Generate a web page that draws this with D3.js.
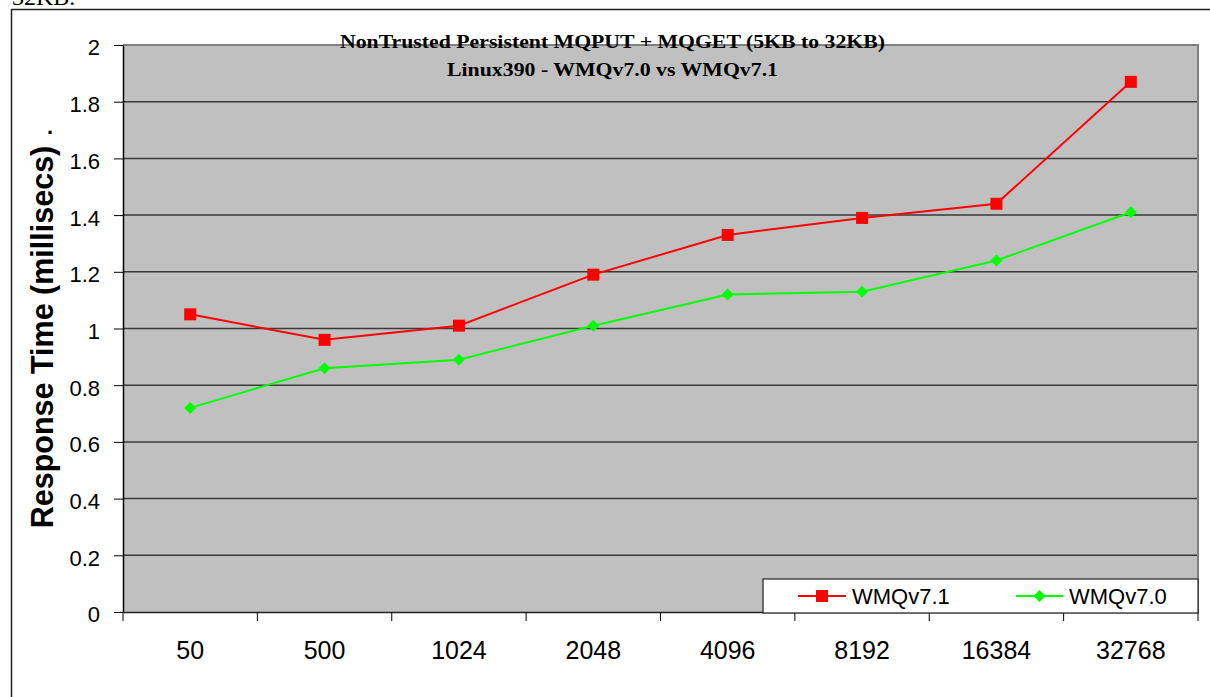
<!DOCTYPE html>
<html>
<head>
<meta charset="utf-8">
<script src="https://cdn.jsdelivr.net/npm/d3@7/dist/d3.min.js"></script>
<style>
  html, body { margin: 0; padding: 0; background: #fff; }
  svg { display: block; }
</style>
</head>
<body>
<svg id="chart" width="1210" height="697"></svg>
<script>
const categories = ["50", "500", "1024", "2048", "4096", "8192", "16384", "32768"];
const wmq71 = [1.05, 0.96, 1.01, 1.19, 1.33, 1.39, 1.44, 1.87];
const wmq70 = [0.72, 0.86, 0.89, 1.01, 1.12, 1.13, 1.24, 1.41];
const yTicks = [0, 0.2, 0.4, 0.6, 0.8, 1, 1.2, 1.4, 1.6, 1.8, 2];
const seriesNames = ["WMQv7.1", "WMQv7.0"];
const titleLines = ["NonTrusted Persistent MQPUT + MQGET (5KB to 32KB)", "Linux390 - WMQv7.0 vs WMQv7.1"];
const yTitle = "Response Time (millisecs)";

const svg = d3.select("#chart");
const SANS = "'Liberation Sans', Arial, sans-serif";
const SERIF = "'Liberation Serif', 'Times New Roman', serif";

const plot = { left: 123, right: 1198, top: 45, bottom: 612 };

// outer frame (cut by the page)
svg.append("path")
  .attr("d", `M11.5,700 L11.5,9.5 L1215,9.5`)
  .attr("fill", "none").attr("stroke", "#222").attr("stroke-width", 1.5);

// text partly cut off above the frame, as in the reference
svg.append("text").attr("x", 12).attr("y", 5)
  .attr("font-family", SERIF).attr("font-size", 24).attr("fill", "#000")
  .text("32KB.");

const x = d3.scaleBand().domain(categories).range([plot.left, plot.right]).padding(0);
const y = d3.scaleLinear().domain([0, 2]).range([plot.bottom, plot.top]);
const cx = c => x(c) + x.bandwidth() / 2;

// plot background
svg.append("rect")
  .attr("x", plot.left).attr("y", plot.top)
  .attr("width", plot.right - plot.left).attr("height", plot.bottom - plot.top)
  .attr("fill", "#c0c0c0");

// gridlines
svg.append("g").selectAll("line")
  .data(yTicks.filter(t => t > 0 && t < 2))
  .join("line")
  .attr("x1", plot.left).attr("x2", plot.right)
  .attr("y1", d => y(d)).attr("y2", d => y(d))
  .attr("stroke", "#3a3a3a").attr("stroke-width", 1.5);

// plot border top & right (gray)
svg.append("path")
  .attr("d", `M${plot.left},${plot.top} L${plot.right},${plot.top} L${plot.right},${plot.bottom}`)
  .attr("fill", "none").attr("stroke", "#808080").attr("stroke-width", 2);

// Y axis
const yAxis = d3.axisLeft(y).tickValues(yTicks).tickSize(9).tickSizeOuter(0)
  .tickFormat(d => d3.format("~g")(d));
const gy = svg.append("g").attr("transform", `translate(${plot.left},0)`).call(yAxis);
gy.select(".domain").attr("stroke", "#000").attr("stroke-width", 1.5);
gy.selectAll(".tick line").attr("stroke", "#000").attr("stroke-width", 1);
gy.selectAll(".tick text")
  .attr("font-family", SANS).attr("font-size", 22).attr("fill", "#000")
  .attr("x", -23).attr("dy", "0.45em");

// X axis: baseline, boundary ticks, labels
const xAxis = d3.axisBottom(x).tickSize(0).tickSizeOuter(0);
const gx = svg.append("g").attr("transform", `translate(0,${plot.bottom})`).call(xAxis);
gx.select(".domain").attr("stroke", "#222").attr("stroke-width", 1.5);
gx.selectAll(".tick text")
  .attr("font-family", SANS).attr("font-size", 25).attr("fill", "#000")
  .attr("y", 47).attr("dy", 0);
const bounds = categories.map(c => x(c)).concat([x(categories[categories.length - 1]) + x.bandwidth()]);
gx.append("g").selectAll("line").data(bounds).join("line")
  .attr("x1", d => d).attr("x2", d => d).attr("y1", 0).attr("y2", 9)
  .attr("stroke", "#000").attr("stroke-width", 1);

// lines
const line = d3.line().x((d, i) => cx(categories[i])).y(d => y(d));
svg.append("path").datum(wmq71).attr("d", line)
  .attr("fill", "none").attr("stroke", "#ff0000").attr("stroke-width", 2);
svg.append("path").datum(wmq70).attr("d", line)
  .attr("fill", "none").attr("stroke", "#00ff00").attr("stroke-width", 2);

// markers
const sq = 12, dm = 6;
svg.append("g").selectAll("rect").data(wmq71).join("rect")
  .attr("x", (d, i) => cx(categories[i]) - sq / 2).attr("y", d => y(d) - sq / 2)
  .attr("width", sq).attr("height", sq).attr("fill", "#ff0000");
const diamond = (px, py) => `M${px},${py - dm} L${px + dm},${py} L${px},${py + dm} L${px - dm},${py} Z`;
svg.append("g").selectAll("path").data(wmq70).join("path")
  .attr("d", (d, i) => diamond(cx(categories[i]), y(d)))
  .attr("fill", "#00ff00");

// title
const tw = [545, 331];
titleLines.forEach((t, i) => {
  svg.append("text")
    .attr("x", 612.5).attr("y", i === 0 ? 48 : 76)
    .attr("text-anchor", "middle")
    .attr("font-family", SERIF).attr("font-weight", "bold").attr("font-size", 19)
    .attr("textLength", tw[i]).attr("lengthAdjust", "spacingAndGlyphs")
    .attr("fill", "#000").text(t);
});

// y title
svg.append("text")
  .attr("transform", `translate(53,337) rotate(-90)`)
  .attr("text-anchor", "middle")
  .attr("font-family", SANS).attr("font-weight", "bold").attr("font-size", 30.5)
  .attr("fill", "#000").text(yTitle);
svg.append("text")
  .attr("x", 50).attr("y", 134).attr("text-anchor", "middle")
  .attr("font-family", SANS).attr("font-weight", "bold").attr("font-size", 22)
  .attr("fill", "#000").text(".");

// legend
const lg = { x: 763, y: 579, w: 435, h: 34 };
svg.append("rect").attr("x", lg.x).attr("y", lg.y).attr("width", lg.w).attr("height", lg.h)
  .attr("fill", "#fff").attr("stroke", "#222").attr("stroke-width", 1.2);
const lcy = lg.y + lg.h / 2;
const legendItems = [
  { name: seriesNames[0], color: "#ff0000", x1: 798, x2: 846, tx: 852, mark: "sq" },
  { name: seriesNames[1], color: "#00ff00", x1: 1016, x2: 1063, tx: 1069, mark: "dm" }
];
legendItems.forEach(it => {
  svg.append("line").attr("x1", it.x1).attr("x2", it.x2).attr("y1", lcy).attr("y2", lcy)
    .attr("stroke", it.color).attr("stroke-width", 2);
  const mx = (it.x1 + it.x2) / 2;
  if (it.mark === "sq") {
    svg.append("rect").attr("x", mx - sq / 2).attr("y", lcy - sq / 2).attr("width", sq).attr("height", sq)
      .attr("fill", it.color);
  } else {
    svg.append("path").attr("d", diamond(mx, lcy)).attr("fill", it.color);
  }
  svg.append("text").attr("x", it.tx).attr("y", lcy).attr("dy", "0.36em")
    .attr("font-family", SANS).attr("font-size", 22).attr("fill", "#000").text(it.name);
});
</script>
</body>
</html>
